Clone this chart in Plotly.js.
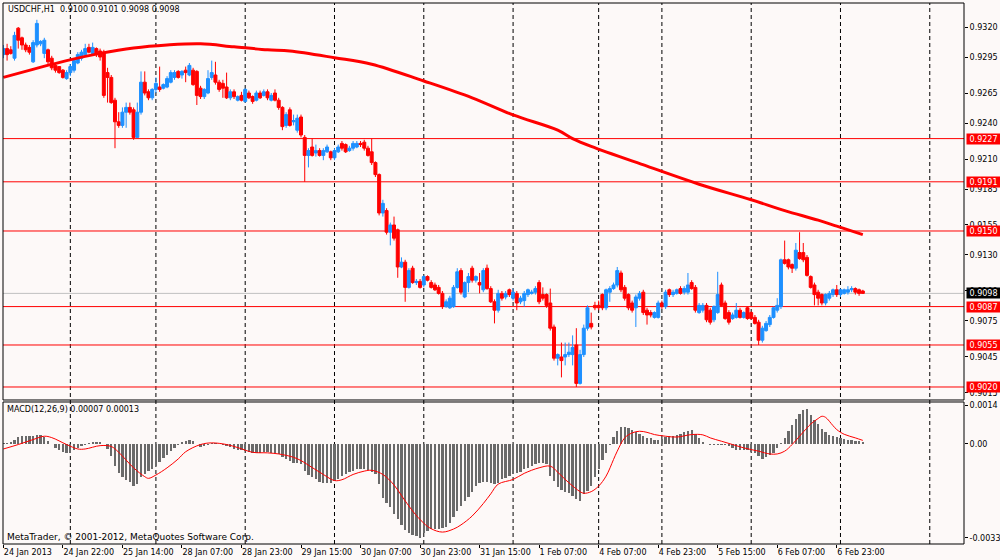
<!DOCTYPE html>
<html><head><meta charset="utf-8">
<script src="https://cdn.plot.ly/plotly-3.0.1.min.js"></script>
<style>html,body{margin:0;padding:0;background:#fdf9f8;}#chart{width:1000px;height:560px;}</style>
</head><body><div id="chart"></div>
<script>
const chartTitle = 'USDCHF,H1  0.9100 0.9101 0.9098 0.9098';
const macdTitle = 'MACD(12,26,9) 0.00007 0.00013';
const copyright = 'MetaTrader, \u00A9 2001-2012, MetaQuotes Software Corp.';

const open = [
0.9297,0.9302,0.9301,0.9294,0.9319,0.9311,0.9305,0.9303,0.9291,0.9305,
0.9306,0.9298,0.9301,0.9294,0.9288,0.9287,0.9284,0.9277,0.9282,0.9284,
0.9290,0.9294,0.9297,0.9303,0.9298,0.9302,0.9300,0.9299,0.9282,0.9278,
0.9259,0.9241,0.9238,0.9249,0.9253,0.9251,0.9228,0.9249,0.9274,0.9266,
0.9261,0.9268,0.9270,0.9269,0.9270,0.9274,0.9278,0.9283,0.9280,0.9284,
0.9280,0.9284,0.9283,0.9269,0.9262,0.9265,0.9278,0.9280,0.9274,0.9273,
0.9270,0.9261,0.9266,0.9259,0.9263,0.9258,0.9265,0.9262,0.9259,0.9265,
0.9263,0.9266,0.9259,0.9265,0.9259,0.9253,0.9238,0.9251,0.9241,0.9234,
0.9245,0.9228,0.9213,0.9220,0.9215,0.9217,0.9213,0.9216,0.9216,0.9211,
0.9216,0.9223,0.9222,0.9217,0.9219,0.9220,0.9223,0.9224,0.9219,0.9216,
0.9207,0.9197,0.9165,0.9167,0.9149,0.9155,0.9151,0.9120,0.9124,0.9103,
0.9119,0.9107,0.9108,0.9105,0.9112,0.9107,0.9105,0.9103,0.9098,0.9087,
0.9086,0.9087,0.9103,0.9117,0.9095,0.9107,0.9119,0.9109,0.9107,0.9101,
0.9119,0.9102,0.9091,0.9084,0.9098,0.9095,0.9101,0.9094,0.9098,0.9091,
0.9092,0.9097,0.9098,0.9099,0.9107,0.9097,0.9097,0.9090,0.9070,0.9044,
0.9045,0.9045,0.9047,0.9047,0.9055,0.9023,0.9047,0.9069,0.9073,0.9088,
0.9088,0.9097,0.9086,0.9099,0.9102,0.9105,0.9115,0.9103,0.9097,0.9090,
0.9086,0.9094,0.9099,0.9084,0.9082,0.9078,0.9078,0.9090,0.9087,0.9101,
0.9097,0.9098,0.9102,0.9099,0.9099,0.9107,0.9103,0.9082,0.9084,0.9088,
0.9084,0.9076,0.9082,0.9105,0.9090,0.9082,0.9077,0.9078,0.9084,0.9078,
0.9086,0.9082,0.9078,0.9074,0.9059,0.9067,0.9072,0.9078,0.9084,0.9087,
0.9126,0.9126,0.9122,0.9119,0.9132,0.9132,0.9128,0.9112,0.9105,0.9099,
0.9097,0.9090,0.9094,0.9097,0.9101,0.9097,0.9098,0.9099,0.9101,0.9102,
0.9101,0.9100];

const high = [
0.9305,0.9306,0.9304,0.9316,0.9320,0.9312,0.9307,0.9305,0.9309,0.9326,
0.9309,0.9311,0.9302,0.9296,0.9290,0.9287,0.9285,0.9284,0.9289,0.9294,
0.9299,0.9301,0.9306,0.9306,0.9307,0.9303,0.9302,0.9301,0.9286,0.9280,
0.9261,0.9249,0.9253,0.9257,0.9257,0.9253,0.9257,0.9283,0.9283,0.9268,
0.9269,0.9278,0.9287,0.9273,0.9279,0.9284,0.9284,0.9284,0.9284,0.9287,
0.9290,0.9286,0.9284,0.9271,0.9269,0.9284,0.9292,0.9291,0.9276,0.9276,
0.9282,0.9268,0.9268,0.9263,0.9266,0.9269,0.9267,0.9263,0.9267,0.9267,
0.9268,0.9268,0.9265,0.9268,0.9261,0.9254,0.9249,0.9253,0.9247,0.9247,
0.9247,0.9230,0.9219,0.9227,0.9222,0.9219,0.9219,0.9222,0.9217,0.9219,
0.9222,0.9225,0.9223,0.9221,0.9225,0.9225,0.9225,0.9226,0.9221,0.9227,
0.9208,0.9198,0.9176,0.9169,0.9157,0.9162,0.9152,0.9128,0.9126,0.9119,
0.9121,0.9110,0.9110,0.9113,0.9113,0.9109,0.9107,0.9105,0.9100,0.9093,
0.9096,0.9105,0.9119,0.9119,0.9108,0.9115,0.9121,0.9113,0.9115,0.9119,
0.9122,0.9104,0.9093,0.9101,0.9100,0.9100,0.9102,0.9102,0.9100,0.9096,
0.9100,0.9102,0.9101,0.9104,0.9109,0.9103,0.9098,0.9102,0.9072,0.9048,
0.9057,0.9057,0.9057,0.9063,0.9069,0.9051,0.9072,0.9088,0.9082,0.9091,
0.9092,0.9098,0.9102,0.9104,0.9107,0.9120,0.9117,0.9105,0.9098,0.9092,
0.9097,0.9100,0.9101,0.9086,0.9084,0.9083,0.9092,0.9092,0.9101,0.9102,
0.9101,0.9102,0.9104,0.9104,0.9115,0.9109,0.9105,0.9090,0.9090,0.9090,
0.9086,0.9088,0.9116,0.9107,0.9092,0.9084,0.9082,0.9090,0.9086,0.9083,
0.9087,0.9083,0.9080,0.9076,0.9071,0.9075,0.9080,0.9087,0.9094,0.9127,
0.9142,0.9127,0.9123,0.9140,0.9149,0.9140,0.9130,0.9113,0.9107,0.9101,
0.9098,0.9098,0.9100,0.9102,0.9105,0.9102,0.9102,0.9104,0.9104,0.9103,
0.9102,0.9101];

const low = [
0.9294,0.9292,0.9297,0.9292,0.9302,0.9301,0.9299,0.9297,0.9290,0.9303,
0.9304,0.9294,0.9289,0.9284,0.9282,0.9281,0.9277,0.9276,0.9279,0.9282,
0.9289,0.9292,0.9295,0.9298,0.9297,0.9295,0.9292,0.9261,0.9257,0.9256,
0.9219,0.9236,0.9236,0.9236,0.9247,0.9226,0.9228,0.9247,0.9263,0.9259,
0.9259,0.9265,0.9266,0.9268,0.9269,0.9273,0.9276,0.9277,0.9277,0.9274,
0.9279,0.9271,0.9255,0.9260,0.9260,0.9264,0.9276,0.9272,0.9266,0.9261,
0.9260,0.9259,0.9260,0.9258,0.9258,0.9257,0.9260,0.9256,0.9258,0.9260,
0.9262,0.9259,0.9258,0.9258,0.9251,0.9234,0.9236,0.9237,0.9238,0.9232,
0.9228,0.9191,0.9203,0.9212,0.9212,0.9212,0.9209,0.9215,0.9209,0.9209,
0.9215,0.9217,0.9215,0.9216,0.9217,0.9219,0.9220,0.9217,0.9212,0.9205,
0.9195,0.9163,0.9162,0.9147,0.9138,0.9142,0.9111,0.9119,0.9091,0.9102,
0.9106,0.9105,0.9102,0.9103,0.9108,0.9102,0.9100,0.9097,0.9085,0.9086,
0.9085,0.9086,0.9102,0.9097,0.9094,0.9099,0.9107,0.9107,0.9098,0.9099,
0.9101,0.9090,0.9073,0.9082,0.9092,0.9093,0.9095,0.9092,0.9084,0.9089,
0.9087,0.9095,0.9097,0.9097,0.9089,0.9092,0.9086,0.9067,0.9042,0.9038,
0.9028,0.9038,0.9045,0.9038,0.9020,0.9022,0.9045,0.9067,0.9068,0.9084,
0.9084,0.9084,0.9084,0.9091,0.9101,0.9103,0.9099,0.9092,0.9084,0.9082,
0.9070,0.9092,0.9080,0.9072,0.9078,0.9077,0.9077,0.9085,0.9085,0.9095,
0.9095,0.9097,0.9097,0.9097,0.9097,0.9101,0.9082,0.9081,0.9082,0.9074,
0.9072,0.9074,0.9081,0.9087,0.9076,0.9072,0.9076,0.9077,0.9077,0.9077,
0.9076,0.9076,0.9072,0.9055,0.9057,0.9066,0.9070,0.9077,0.9082,0.9085,
0.9122,0.9118,0.9115,0.9117,0.9126,0.9124,0.9112,0.9102,0.9088,0.9088,
0.9088,0.9088,0.9092,0.9095,0.9095,0.9095,0.9097,0.9097,0.9099,0.9097,
0.9096,0.9098];

const close = [
0.9302,0.9297,0.9298,0.9313,0.9309,0.9305,0.9301,0.9299,0.9307,0.9323,
0.9308,0.9309,0.9291,0.9286,0.9284,0.9282,0.9278,0.9282,0.9287,0.9292,
0.9297,0.9299,0.9302,0.9299,0.9303,0.9297,0.9295,0.9263,0.9278,0.9257,
0.9241,0.9238,0.9249,0.9253,0.9249,0.9228,0.9249,0.9274,0.9265,0.9261,
0.9268,0.9273,0.9268,0.9272,0.9277,0.9282,0.9282,0.9278,0.9283,0.9282,
0.9288,0.9272,0.9263,0.9262,0.9268,0.9277,0.9282,0.9274,0.9268,0.9269,
0.9261,0.9266,0.9262,0.9262,0.9259,0.9268,0.9261,0.9258,0.9265,0.9261,
0.9266,0.9261,0.9263,0.9259,0.9253,0.9237,0.9247,0.9238,0.9242,0.9244,
0.9230,0.9213,0.9217,0.9213,0.9217,0.9213,0.9217,0.9220,0.9211,0.9217,
0.9220,0.9219,0.9216,0.9219,0.9223,0.9223,0.9222,0.9219,0.9213,0.9207,
0.9197,0.9165,0.9173,0.9149,0.9155,0.9144,0.9120,0.9124,0.9103,0.9117,
0.9107,0.9108,0.9103,0.9112,0.9109,0.9103,0.9101,0.9098,0.9087,0.9091,
0.9094,0.9103,0.9116,0.9099,0.9107,0.9112,0.9109,0.9112,0.9105,0.9117,
0.9102,0.9091,0.9084,0.9098,0.9094,0.9098,0.9097,0.9099,0.9090,0.9094,
0.9098,0.9101,0.9099,0.9102,0.9091,0.9094,0.9088,0.9069,0.9044,0.9047,
0.9042,0.9047,0.9049,0.9053,0.9023,0.9047,0.9069,0.9086,0.9070,0.9086,
0.9086,0.9086,0.9101,0.9102,0.9105,0.9117,0.9101,0.9094,0.9086,0.9084,
0.9095,0.9098,0.9082,0.9080,0.9080,0.9082,0.9090,0.9087,0.9099,0.9097,
0.9099,0.9101,0.9098,0.9102,0.9105,0.9102,0.9084,0.9088,0.9088,0.9076,
0.9074,0.9087,0.9097,0.9088,0.9077,0.9074,0.9080,0.9084,0.9078,0.9082,
0.9077,0.9077,0.9073,0.9059,0.9069,0.9073,0.9078,0.9086,0.9088,0.9126,
0.9123,0.9120,0.9119,0.9134,0.9127,0.9126,0.9113,0.9103,0.9097,0.9094,
0.9090,0.9097,0.9098,0.9101,0.9097,0.9101,0.9101,0.9101,0.9102,0.9099,
0.9098,0.9098];

// moving average, read at sample bars
const maBars = [0,17,26,35,44,53,62,71,77,89,99,113,126,137,149,153,158,173,187,201,210,219,224,231];
const maValues = [0.9278,0.9292,0.9298,0.93025,0.9305,0.9306,0.93035,0.9301,0.9300,0.92944,0.9289,0.9275,0.9261,0.92467,0.9234,0.9227,0.92205,0.9204,0.9189,0.9176,0.9167,0.9159,0.9154,0.9147];

// MACD histogram (one value per bar)
const macd = [
0.00002,0.00003,0.00008,0.00016,0.00025,0.00028,0.00028,0.00028,0.00030,0.00031,
0.00032,0.00024,0.00012,0.00000,-0.00016,-0.00022,-0.00028,-0.00032,-0.00031,-0.00020,
-0.00016,-0.00008,-0.00004,0.00004,0.00006,0.00008,0.00008,0.00000,-0.00018,-0.00044,
-0.00080,-0.00104,-0.00119,-0.00131,-0.00137,-0.00152,-0.00146,-0.00119,-0.00108,-0.00098,
-0.00090,-0.00080,-0.00065,-0.00050,-0.00038,-0.00024,-0.00014,-0.00002,0.00006,0.00011,
0.00016,0.00010,-0.00001,-0.00011,-0.00008,-0.00002,0.00002,0.00004,0.00001,-0.00002,
-0.00006,-0.00011,-0.00017,-0.00020,-0.00023,-0.00026,-0.00030,-0.00034,-0.00034,-0.00031,
-0.00030,-0.00030,-0.00031,-0.00034,-0.00036,-0.00047,-0.00054,-0.00060,-0.00067,-0.00070,
-0.00074,-0.00098,-0.00112,-0.00119,-0.00128,-0.00136,-0.00140,-0.00140,-0.00140,-0.00134,
-0.00125,-0.00116,-0.00109,-0.00102,-0.00096,-0.00092,-0.00090,-0.00092,-0.00094,-0.00100,
-0.00110,-0.00146,-0.00194,-0.00212,-0.00228,-0.00252,-0.00272,-0.00293,-0.00311,-0.00322,
-0.00328,-0.00332,-0.00338,-0.00320,-0.00314,-0.00308,-0.00308,-0.00306,-0.00304,-0.00299,
-0.00284,-0.00263,-0.00242,-0.00224,-0.00206,-0.00192,-0.00175,-0.00152,-0.00140,-0.00136,
-0.00138,-0.00140,-0.00143,-0.00140,-0.00127,-0.00121,-0.00114,-0.00110,-0.00106,-0.00100,
-0.00092,-0.00086,-0.00079,-0.00073,-0.00068,-0.00068,-0.00074,-0.00114,-0.00134,-0.00154,
-0.00166,-0.00173,-0.00176,-0.00186,-0.00198,-0.00205,-0.00182,-0.00169,-0.00150,-0.00120,
-0.00090,-0.00059,-0.00032,-0.00002,0.00026,0.00046,0.00061,0.00061,0.00056,0.00049,
0.00043,0.00035,0.00028,0.00022,0.00022,0.00013,0.00016,0.00018,0.00024,0.00028,
0.00030,0.00034,0.00037,0.00043,0.00047,0.00050,0.00037,0.00022,0.00008,0.00001,
-0.00002,-0.00002,-0.00002,-0.00002,-0.00005,-0.00008,-0.00014,-0.00020,-0.00023,-0.00023,
-0.00023,-0.00028,-0.00034,-0.00042,-0.00053,-0.00048,-0.00038,-0.00032,-0.00013,0.00004,
0.00022,0.00048,0.00068,0.00090,0.00110,0.00124,0.00128,0.00105,0.00087,0.00073,
0.00054,0.00042,0.00034,0.00028,0.00025,0.00022,0.00018,0.00016,0.00013,0.00012,
0.00011,0.00007];

// MACD signal line, read at sample bars
const signalBars = [0,4,8,11,13,17,20,22,26,29,31,35,38,39,41,44,47,49,53,56,60,63,67,71,74,78,80,83,86,89,91,94,97,99,102,105,107,110,113,115,118,121,123,126,129,131,133,137,140,144,147,149,152,155,156,158,160,162,164,165,167,169,171,173,175,178,181,185,188,190,193,196,199,203,206,208,210,212,214,216,217,219,220,221,223,224,226,229,231];
const signalValues = [-0.00018,-0.00002,0.00016,0.00028,0.00023,-0.00002,-0.00018,-0.00018,-0.00006,-0.00009,
-0.00030,-0.00086,-0.00118,-0.00124,-0.00112,-0.00086,-0.00054,-0.00028,-0.00002,0.00004,
-0.00002,-0.00013,-0.00030,-0.00032,-0.00036,-0.00048,-0.00060,-0.00085,-0.00110,-0.00132,
-0.00129,-0.00110,-0.00098,-0.00095,-0.00110,-0.00148,-0.00186,-0.00242,-0.00286,-0.00306,
-0.00318,-0.00307,-0.00292,-0.00260,-0.00215,-0.00180,-0.00145,-0.00128,-0.00106,-0.00086,
-0.00080,-0.00102,-0.00140,-0.00172,-0.00178,-0.00172,-0.00152,-0.00116,-0.00056,-0.00026,
0.00022,0.00040,0.00046,0.00042,0.00034,0.00028,0.00025,0.00034,0.00033,0.00022,
0.00010,-0.00002,-0.00014,-0.00026,-0.00036,-0.00036,-0.00026,-0.00002,0.00028,0.00058,
0.00072,0.00092,0.00100,0.00096,0.00066,0.00052,0.00035,0.00022,0.00013];

// horizontal levels and the bid line
const levels = [0.9227,0.9191,0.9150,0.9087,0.9055,0.9020];
const bidPrice = 0.9098;

// axis ticks
const priceTicks = [0.9320,0.9295,0.9265,0.9240,0.9210,0.9185,0.9155,0.9130,0.9100,0.9075,0.9045,0.9015];
const macdTicks = [0.0014,0,-0.00339];
const macdTickText = ['0.0014','0.00','-0.00339'];
const timeTickBars = [0,16,32,48,64,80,96,112,128,144,160,176,192,208,224];
const timeTickText = ['24 Jan 2013','24 Jan 22:00','25 Jan 14:00','28 Jan 07:00','28 Jan 23:00','29 Jan 15:00','30 Jan 07:00','30 Jan 23:00','31 Jan 15:00','1 Feb 07:00','4 Feb 07:00','4 Feb 23:00','5 Feb 15:00','6 Feb 07:00','6 Feb 23:00'];
// day separators (bar index of each new day)
const daySeparators = [18,41,65,89,113,137,160,177,201,225,249];

const bars = close.map((_, i) => i);
const FONT = 'DejaVu Sans, Verdana, sans-serif';
const BG = '#fdf9f8';
const priceDomain = [0.2662, 1];
const macdDomain = [0, 0.2625];

const traces = [
  {type:'bar', x:bars, y:macd, xaxis:'x', yaxis:'y2', width:0.62,
   marker:{color:'#6a6a6a', line:{width:0}}, hoverinfo:'skip'},
  {type:'scatter', mode:'lines', x:signalBars, y:signalValues, xaxis:'x', yaxis:'y2',
   line:{color:'#ff0000', width:1, shape:'spline', smoothing:1}, hoverinfo:'skip'},
  {type:'candlestick', x:bars, open:open, high:high, low:low, close:close, xaxis:'x', yaxis:'y',
   increasing:{line:{color:'#1e90ff', width:1}, fillcolor:'#1e90ff'},
   decreasing:{line:{color:'#ff0000', width:1}, fillcolor:'#ff0000'},
   whiskerwidth:0, hoverinfo:'skip'},
  {type:'scatter', mode:'lines', x:maBars, y:maValues, xaxis:'x', yaxis:'y',
   line:{color:'#ff0000', width:3, shape:'spline', smoothing:1}, hoverinfo:'skip'}
];

const shapes = [];
daySeparators.forEach(b => shapes.push({type:'line', xref:'x', yref:'paper', x0:b, x1:b, y0:0, y1:1,
  line:{color:'#000', width:1, dash:'4px,3px'}, layer:'below'}));
levels.forEach(v => shapes.push({type:'line', xref:'paper', yref:'y', x0:0, x1:1, y0:v, y1:v,
  line:{color:'#ff0000', width:1}, layer:'below'}));
shapes.push({type:'line', xref:'paper', yref:'y', x0:0, x1:1, y0:bidPrice, y1:bidPrice,
  line:{color:'#c0c0c0', width:1}, layer:'below'});
shapes.push({type:'rect', xref:'paper', yref:'paper', x0:0, x1:1, y0:priceDomain[0], y1:priceDomain[1],
  line:{color:'#000', width:1}, fillcolor:'rgba(0,0,0,0)'});
shapes.push({type:'rect', xref:'paper', yref:'paper', x0:0, x1:1, y0:macdDomain[0], y1:macdDomain[1],
  line:{color:'#000', width:1}, fillcolor:'rgba(0,0,0,0)'});

const annotations = [
  {xref:'paper', yref:'paper', x:0.003, y:0.9889, xanchor:'left', yanchor:'middle', showarrow:false,
   text:chartTitle, font:{family:FONT, size:8, color:'#000'}},
  {xref:'paper', yref:'paper', x:0.002, y:0.2495, xanchor:'left', yanchor:'middle', showarrow:false,
   text:macdTitle, font:{family:FONT, size:8, color:'#000'}},
  {xref:'paper', yref:'paper', x:0.002, y:0.013, xanchor:'left', yanchor:'middle', showarrow:false,
   text:copyright, font:{family:FONT, size:9, color:'#000'}}
];
levels.forEach(v => annotations.push({xref:'paper', yref:'y', x:1, y:v, xanchor:'left', yanchor:'middle',
  xshift:2, showarrow:false, text:v.toFixed(4), bgcolor:'#ff0000', borderpad:0, width:33, height:10,
  font:{family:FONT, size:8, color:'#fff'}}));
annotations.push({xref:'paper', yref:'y', x:1, y:bidPrice, xanchor:'left', yanchor:'middle',
  xshift:2, showarrow:false, text:bidPrice.toFixed(4), bgcolor:'#000', borderpad:0, width:33, height:10,
  font:{family:FONT, size:8, color:'#fff'}});

const layout = {
  width:1000, height:560, margin:{l:3, r:36, t:3, b:16, autoexpand:false},
  paper_bgcolor:BG, plot_bgcolor:BG, showlegend:false, hovermode:false, dragmode:false,
  font:{family:FONT, size:8, color:'#000'},
  boxgap:0.2, boxgroupgap:0, bargap:0,
  xaxis:{domain:[0,1], range:[-0.1,258.2], anchor:'y2', tickmode:'array', tickvals:timeTickBars, ticktext:timeTickText,
    tickangle:0, automargin:false,
    ticks:'outside', ticklen:3, tickcolor:'#000', ticklabelposition:'outside right', showgrid:false, zeroline:false,
    showline:false, rangeslider:{visible:false}, tickfont:{family:FONT, size:8, color:'#000'}},
  yaxis:{domain:priceDomain, range:[0.900917,0.934], anchor:'x', side:'right', tickmode:'array', automargin:false,
    tickvals:priceTicks, ticktext:priceTicks.map(v => v.toFixed(4)), ticks:'outside', ticklen:3, tickcolor:'#000',
    showgrid:false, zeroline:false, showline:false, tickfont:{family:FONT, size:8, color:'#000'}},
  yaxis2:{domain:macdDomain, range:[-0.00361,0.001516], anchor:'x', side:'right', tickmode:'array', automargin:false,
    tickvals:macdTicks, ticktext:macdTickText, ticks:'outside', ticklen:3, tickcolor:'#000',
    showgrid:false, zeroline:false, showline:false, tickfont:{family:FONT, size:8, color:'#000'}},
  shapes:shapes, annotations:annotations
};

Plotly.newPlot('chart', traces, layout, {staticPlot:true, displayModeBar:false});
</script>
</body></html>
